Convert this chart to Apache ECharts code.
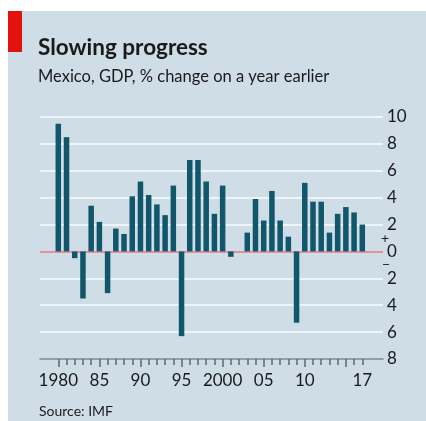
<!DOCTYPE html>
<html>
<head>
<meta charset="utf-8">
<script src="https://cdn.jsdelivr.net/npm/echarts@6/dist/echarts.min.js"></script>
<style>
html,body{margin:0;padding:0;background:#fff;}
#chart{width:426px;height:421px;}
</style>
</head>
<body>
<div id="chart"></div>
<script>
// ---- data ----
const years = [1980,1981,1982,1983,1984,1985,1986,1987,1988,1989,1990,1991,1992,1993,1994,1995,1996,1997,1998,1999,2000,2001,2002,2003,2004,2005,2006,2007,2008,2009,2010,2011,2012,2013,2014,2015,2016,2017];
const gdpGrowth = [9.5,8.5,-0.5,-3.5,3.4,2.2,-3.1,1.7,1.3,4.1,5.2,4.2,3.5,2.7,4.9,-6.3,6.8,6.8,5.2,2.8,4.9,-0.4,0.0,1.4,3.9,2.3,4.5,2.3,1.1,-5.3,5.1,3.7,3.7,1.4,2.8,3.3,2.9,2.0];
const xTickYears = [1980,1985,1990,1995,2000,2005,2010,2017];
const xTickLabels = ['1980','85','90','95','2000','05','10','17'];
const majorTickYears = [1980,1985,1990,1995,2000,2005,2010,2015];
const yMin = -8, yMax = 10, yStep = 2;

const titleText = 'Slowing progress';
const subtitleText = 'Mexico, GDP, % change on a year earlier';
const sourceText = 'Source: IMF';

// ---- chart ----
const FONT = 'Lato, "Noto Sans", sans-serif';
const bg = '#cfdde7';
const gridCol = '#eef4f7';
const zeroCol = '#e3909a';
const axisCol = '#7f8a92';
const tickCol = '#5f6a72';

const splitColors = [];
for (let v = yMin; v <= yMax; v += yStep) {
  splitColors.push(v === yMin ? 'rgba(0,0,0,0)' : (v === 0 ? zeroCol : gridCol));
}
const cats = years.map(String);

const chart = echarts.init(document.getElementById('chart'), null, {renderer: 'canvas'});
chart.setOption({
  backgroundColor: '#ffffff',
  animation: false,
  graphic: [
    {type: 'rect', z: -100, silent: true, shape: {x: 8, y: 11, width: 418, height: 410}, style: {fill: bg}},
    {type: 'rect', z: 10, silent: true, shape: {x: 8, y: 11, width: 14, height: 41}, style: {fill: '#e3120b'}},
    {type: 'text', z: 10, left: 38, top: 36, style: {text: titleText, font: 'bold 22.5px ' + FONT, fill: '#1a1a1a'}},
    {type: 'text', z: 10, left: 38, top: 68, style: {text: subtitleText, font: '16.5px ' + FONT, fill: '#1a1a1a'}},
    {type: 'text', z: 10, left: 39, top: 404, style: {text: sourceText, font: '14px ' + FONT, fill: '#1a1a1a'}},
    {type: 'text', z: 10, left: 381, top: 231, style: {text: '+', font: '14px ' + FONT, fill: '#1a1a1a'}},
    {type: 'text', z: 10, left: 382, top: 257, style: {text: '\u2212', font: '14px ' + FONT, fill: '#1a1a1a'}}
  ],
  grid: [
    {left: 40, right: 43, top: 117, bottom: 62},
    {left: 54.2, right: 59.6, top: 117, bottom: 62}
  ],
  xAxis: [
    {gridIndex: 0, type: 'value', min: 0, max: 1, axisLine: {show: true, onZero: false, lineStyle: {color: axisCol, width: 1.5}}, axisTick: {show: false}, axisLabel: {show: false}, splitLine: {show: false}},
    {gridIndex: 1, type: 'category', data: cats, position: 'bottom',
      axisLine: {show: false, onZero: false},
      axisTick: {show: true, alignWithLabel: true, interval: 0, length: 6, lineStyle: {color: tickCol, width: 1.5}},
      axisLabel: {show: false}, splitLine: {show: false}},
    {gridIndex: 1, type: 'category', data: cats, position: 'bottom',
      axisLine: {show: false, onZero: false},
      axisTick: {show: true, alignWithLabel: true, length: 8, lineStyle: {color: tickCol, width: 1.5},
        interval: function (i, v) { return majorTickYears.indexOf(+v) >= 0; }},
      axisLabel: {show: true, margin: 13, color: '#1a1a1a', fontSize: 17, fontFamily: FONT,
        interval: function (i, v) { return xTickYears.indexOf(+v) >= 0; },
        formatter: function (v) { const i = xTickYears.indexOf(+v); return i >= 0 ? xTickLabels[i] : ''; }},
      splitLine: {show: false}}
  ],
  yAxis: [
    {gridIndex: 0, type: 'value', position: 'right', min: yMin, max: yMax, interval: yStep,
      axisLine: {show: false}, axisTick: {show: false},
      axisLabel: {margin: 4, color: '#1a1a1a', fontSize: 17, fontFamily: FONT, formatter: function (v) { return String(Math.abs(v)); }},
      splitLine: {show: true, lineStyle: {color: splitColors, width: 2}}},
    {gridIndex: 1, type: 'value', min: yMin, max: yMax, interval: yStep, show: false, splitLine: {show: false}}
  ],
  series: [{
    type: 'bar', xAxisIndex: 1, yAxisIndex: 1,
    barWidth: 5.5,
    itemStyle: {color: '#11566a'},
    data: gdpGrowth
  }]
});
</script>
</body>
</html>
